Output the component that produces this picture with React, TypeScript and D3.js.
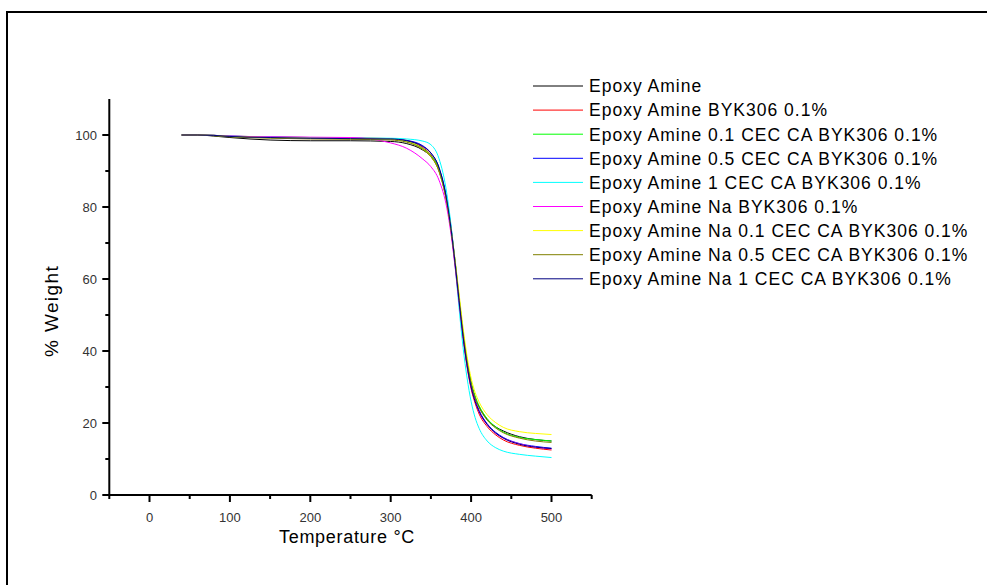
import React from "react";
import * as d3 from "d3";

const temps = [40, 60, 80, 100, 150, 200, 250, 300, 320, 340, 350, 360, 370, 375, 380, 385, 390, 395, 400, 405, 410, 420, 430, 440, 460, 480, 500];

const seriesNames = [
  "Epoxy Amine",
  "Epoxy Amine BYK306 0.1%",
  "Epoxy Amine 0.1 CEC CA BYK306 0.1%",
  "Epoxy Amine 0.5 CEC CA BYK306 0.1%",
  "Epoxy Amine 1 CEC CA BYK306 0.1%",
  "Epoxy Amine Na BYK306 0.1%",
  "Epoxy Amine Na 0.1 CEC CA BYK306 0.1%",
  "Epoxy Amine Na 0.5 CEC CA BYK306 0.1%",
  "Epoxy Amine Na 1 CEC CA BYK306 0.1%",
];

const seriesColors = ["#000000", "#ff0000", "#00ff00", "#0000ff", "#00ffff", "#ff00ff", "#ffff00", "#808000", "#000080"];

const wBlack = [100, 100, 99.7, 99.3, 98.6, 98.4, 98.4, 98.2, 97.6, 95.8, 94, 90, 81, 74, 65, 55, 45, 37, 31, 27, 24.5, 21, 19, 17.8, 16.2, 15.4, 15];
const wRed = [100, 100, 99.9, 99.7, 99.5, 99.3, 99.2, 99, 98.5, 96.5, 94.5, 90.5, 81, 73.5, 64, 53.5, 43.5, 35.5, 29.5, 25.5, 22.5, 19, 16.8, 15.3, 13.8, 13, 12.5];
const wGreen = [100, 100, 99.9, 99.6, 99.3, 99.1, 99, 98.8, 98.2, 96.2, 94.3, 90.5, 81.5, 74, 65, 55, 45.5, 37.5, 31.5, 27.5, 24.8, 21.2, 19, 17.5, 16, 15.4, 15];
const wBlue = [100, 100, 99.9, 99.7, 99.4, 99.2, 99.1, 98.9, 98.5, 97, 95, 91, 82, 74.5, 65, 54.5, 44.5, 36.5, 30.5, 26.5, 23.5, 19.8, 17.5, 16, 14.3, 13.5, 13];
const wCyan = [100, 100, 99.9, 99.7, 99.5, 99.3, 99.2, 99.1, 98.9, 98.3, 97.3, 93.5, 83.5, 75, 64, 52, 41, 32.5, 26, 21.5, 18.5, 15, 13.2, 12.2, 11.3, 10.8, 10.4];
const wMagenta = [100, 100, 99.9, 99.7, 99.5, 99.4, 99.3, 97.8, 96.3, 93.3, 91.2, 87.5, 79.5, 72.5, 63.5, 53.5, 44, 36, 30, 26, 23, 19.5, 17.2, 15.8, 14.2, 13.3, 12.8];
const wYellow = [100, 100, 99.9, 99.6, 99.3, 99.1, 99, 98.8, 98.2, 96, 94, 90, 81, 74, 65.5, 56, 46.5, 38.5, 32.5, 28.5, 25.8, 22.3, 20.2, 18.8, 17.6, 17.1, 16.8];
const wOlive = [100, 100, 99.8, 99.5, 99.1, 98.9, 98.8, 98.6, 98, 96, 94, 90, 81, 73.5, 64.5, 54.5, 45, 37, 31, 27, 24.3, 20.8, 18.7, 17.3, 15.8, 15, 14.6];
const wNavy = [100, 100, 99.9, 99.6, 99.3, 99.1, 99, 98.9, 98.4, 96.8, 95, 91, 81.5, 74, 64.5, 54, 44, 36, 30, 26, 23.2, 19.6, 17.3, 15.8, 14.1, 13.3, 12.9];

const seriesValues = [wBlack, wRed, wGreen, wBlue, wCyan, wMagenta, wYellow, wOlive, wNavy];

const xTicks = [0, 100, 200, 300, 400, 500];
const xMinor = [-50, 50, 150, 250, 350, 450, 550];
const yTicks = [0, 20, 40, 60, 80, 100];
const yMinor = [10, 30, 50, 70, 90];

export default function App() {
  const x = d3.scaleLinear().domain([-50, 550]).range([109.3, 591.7]);
  const y = d3.scaleLinear().domain([0, 110]).range([495, 99]);
  const line = d3
    .line<[number, number]>()
    .x((d) => x(d[0]))
    .y((d) => y(d[1]))
    .curve(d3.curveMonotoneX);
  const font = "'Liberation Sans', Arial, sans-serif";
  const order = [0, 1, 2, 3, 4, 5, 6, 7, 8];

  return (
    <svg width={987} height={585} style={{ position: "absolute", left: 0, top: 0, background: "#fff" }}>
      <rect x={7} y={12} width={1100} height={700} fill="none" stroke="#000" strokeWidth={2} />
      {order.map((i) => (
        <path
          key={i}
          d={line(temps.map((t, j) => [t, seriesValues[i][j]]) as [number, number][]) || ""}
          fill="none"
          stroke={seriesColors[i]}
          strokeWidth={1}
        />
      ))}
      {/* axes */}
      <line x1={x(-50)} x2={x(550)} y1={y(0)} y2={y(0)} stroke="#000" strokeWidth={2} />
      <line x1={x(-50)} x2={x(-50)} y1={y(110)} y2={y(0) + 1} stroke="#000" strokeWidth={2} />
      {xTicks.map((t) => (
        <g key={"xt" + t}>
          <line x1={x(t)} x2={x(t)} y1={y(0)} y2={y(0) + 7} stroke="#000" strokeWidth={2} />
          <text x={x(t)} y={522} textAnchor="middle" fontFamily={font} fontSize={13} fill="#333">
            {t}
          </text>
        </g>
      ))}
      {xMinor.map((t) => (
        <line key={"xm" + t} x1={x(t)} x2={x(t)} y1={y(0)} y2={y(0) + 4} stroke="#000" strokeWidth={2} />
      ))}
      {yTicks.map((v) => (
        <g key={"yt" + v}>
          <line x1={x(-50) - 7} x2={x(-50)} y1={y(v)} y2={y(v)} stroke="#000" strokeWidth={2} />
          <text x={97} y={y(v)} dy="0.35em" textAnchor="end" fontFamily={font} fontSize={13} fill="#333">
            {v}
          </text>
        </g>
      ))}
      {yMinor.map((v) => (
        <line key={"ym" + v} x1={x(-50) - 4} x2={x(-50)} y1={y(v)} y2={y(v)} stroke="#000" strokeWidth={2} />
      ))}
      <text x={347} y={543} textAnchor="middle" fontFamily={font} fontSize={18} letterSpacing={0.7} fill="#000">
        Temperature °C
      </text>
      <text
        transform="translate(58,311) rotate(-90)"
        textAnchor="middle"
        fontFamily={font}
        fontSize={19}
        letterSpacing={1.4}
        fill="#000"
      >
        % Weight
      </text>
      {/* legend */}
      {seriesNames.map((n, i) => (
        <g key={"lg" + i}>
          <line x1={533} x2={583} y1={86 + i * 24.1} y2={86 + i * 24.1} stroke={seriesColors[i]} strokeWidth={1} />
          <text x={589} y={86 + i * 24.1} dy="0.36em" fontFamily={font} fontSize={17.5} letterSpacing={1} fill="#000">
            {n}
          </text>
        </g>
      ))}
    </svg>
  );
}
